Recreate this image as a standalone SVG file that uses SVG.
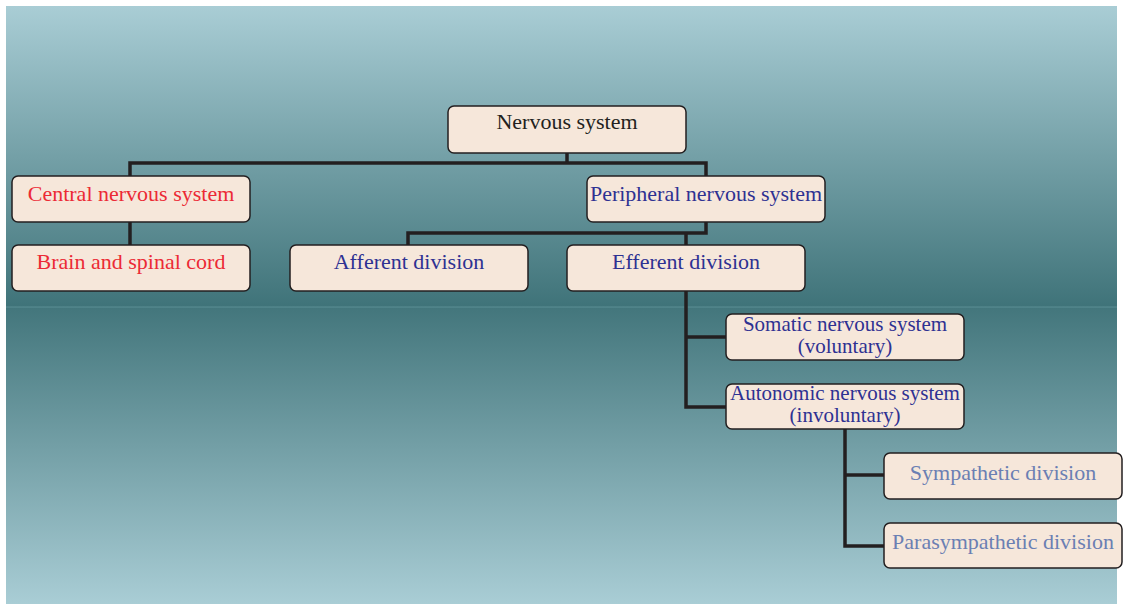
<svg xmlns="http://www.w3.org/2000/svg" width="1123" height="604" viewBox="0 0 1123 604">
  <defs>
    <linearGradient id="bgTop" x1="0" y1="0" x2="0" y2="1">
      <stop offset="0" stop-color="#a9cdd5"/>
      <stop offset="1" stop-color="#3f7379"/>
    </linearGradient>
    <linearGradient id="bgBottom" x1="0" y1="0" x2="0" y2="1">
      <stop offset="0" stop-color="#43767c"/>
      <stop offset="1" stop-color="#a9cdd5"/>
    </linearGradient>
    <style>
      .box { fill: #f6e7da; stroke: #231f20; stroke-width: 1.5; }
      .lbl { font-family: "Liberation Serif", "Times New Roman", serif; font-size: 22px; text-anchor: middle; }
      .two { font-size: 21px; }
      .black { fill: #231f20; }
      .red { fill: #ec2a35; }
      .blue { fill: #2e3192; }
      .pale { fill: #6b7fb3; }
      .wire { fill: none; stroke: #231f20; stroke-width: 3.5; stroke-linejoin: miter; }
    </style>
  </defs>

  <!-- backdrop -->
  <rect x="0" y="0" width="1123" height="604" fill="#ffffff"/>
  <rect x="6" y="6" width="1111" height="301" fill="url(#bgTop)"/>
  <rect x="6" y="307" width="1111" height="297" fill="url(#bgBottom)"/>
  <line x1="6" y1="307" x2="1117" y2="307" stroke="#5d8f95" stroke-width="1"/>

  <!-- connectors -->
  <g id="connectors" class="wire">
    <path d="M567 153 V163"/>
    <path d="M130 176 V163 H706 V176"/>
    <path d="M130 221 V245"/>
    <path d="M706 221 V233 H408 V245"/>
    <path d="M686 233 V245"/>
    <path d="M686 291 V407 H726"/>
    <path d="M686 337 H726"/>
    <path d="M845 429 V546 H884"/>
    <path d="M845 475 H884"/>
  </g>

  <g id="nervous-system">
    <rect class="box" x="448" y="106" width="238" height="47" rx="6"/>
    <text class="lbl black" x="567" y="129">Nervous system</text>
  </g>

  <g id="central-nervous-system">
    <rect class="box" x="12" y="176" width="238" height="46" rx="6"/>
    <text class="lbl red" x="131" y="201">Central nervous system</text>
  </g>

  <g id="brain-and-spinal-cord">
    <rect class="box" x="12" y="245" width="238" height="46" rx="6"/>
    <text class="lbl red" x="131" y="269">Brain and spinal cord</text>
  </g>

  <g id="peripheral-nervous-system">
    <rect class="box" x="587" y="176" width="238" height="46" rx="6"/>
    <text class="lbl blue" x="706" y="201">Peripheral nervous system</text>
  </g>

  <g id="afferent-division">
    <rect class="box" x="290" y="245" width="238" height="46" rx="6"/>
    <text class="lbl blue" x="409" y="269">Afferent division</text>
  </g>

  <g id="efferent-division">
    <rect class="box" x="567" y="245" width="238" height="46" rx="6"/>
    <text class="lbl blue" x="686" y="269">Efferent division</text>
  </g>

  <g id="somatic-nervous-system">
    <rect class="box" x="726" y="314" width="238" height="46" rx="6"/>
    <text class="lbl two blue" x="845" y="331">Somatic nervous system</text>
    <text class="lbl two blue" x="845" y="353">(voluntary)</text>
  </g>

  <g id="autonomic-nervous-system">
    <rect class="box" x="726" y="384" width="238" height="45" rx="6"/>
    <text class="lbl two blue" x="845" y="400">Autonomic nervous system</text>
    <text class="lbl two blue" x="845" y="422">(involuntary)</text>
  </g>

  <g id="sympathetic-division">
    <rect class="box" x="884" y="453" width="238" height="46" rx="6"/>
    <text class="lbl pale" x="1003" y="480">Sympathetic division</text>
  </g>

  <g id="parasympathetic-division">
    <rect class="box" x="884" y="523" width="238" height="45" rx="6"/>
    <text class="lbl pale" x="1003" y="549">Parasympathetic division</text>
  </g>
</svg>
